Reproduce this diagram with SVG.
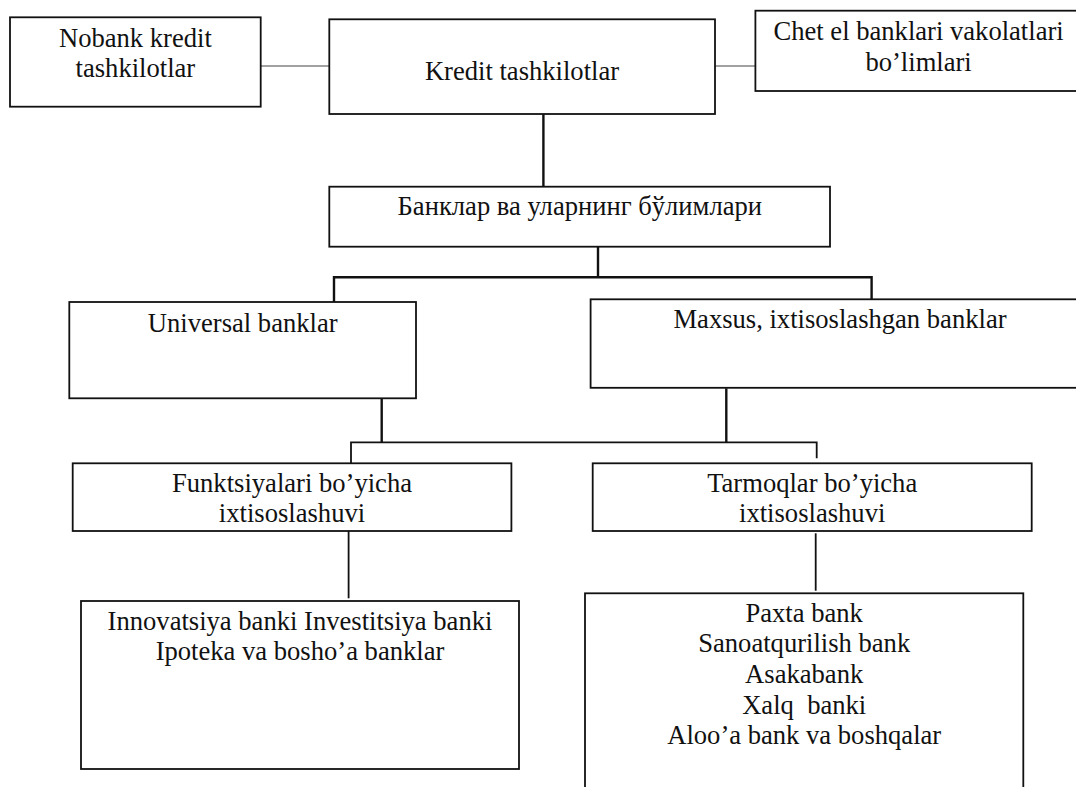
<svg xmlns="http://www.w3.org/2000/svg" width="1076" height="787" viewBox="0 0 1076 787">
<style>
.box{fill:#fff;stroke:#111;stroke-width:1.8}
text{font-family:'Liberation Serif','DejaVu Serif',serif;font-size:26.6px;fill:#111;text-anchor:middle;white-space:pre}
.thin{stroke:#444;stroke-width:1.2;fill:none}
.med{stroke:#111;stroke-width:1.8;fill:none}
.thick{stroke:#111;stroke-width:2.4;fill:none}
</style>
<rect width="1076" height="787" fill="#fff"/>
<g id="connectors">
<line class="thin" x1="260.7" y1="66" x2="329.3" y2="66"/>
<line class="thin" x1="715" y1="66" x2="755.4" y2="66"/>
<line class="thick" x1="543.4" y1="114" x2="543.4" y2="186.7"/>
<line class="thick" x1="598" y1="245.5" x2="598" y2="277.3"/>
<polyline class="thick" points="334,303 334,277.3 871.6,277.3 871.6,299.3"/>
<line class="thick" x1="381.7" y1="398.3" x2="381.7" y2="442.3"/>
<line class="thick" x1="726.3" y1="388.3" x2="726.3" y2="442.3"/>
<polyline class="med" points="351,463.3 351,442.3 816.7,442.3 816.7,458.3"/>
<line class="med" x1="348.6" y1="531" x2="348.6" y2="598.3"/>
<line class="med" x1="815.7" y1="533.3" x2="815.7" y2="590.7"/>
</g>
<g id="nobank">
<rect class="box" x="10" y="17.3" width="250.7" height="89.4"/>
<text font-family="Liberation Serif, DejaVu Serif, serif" x="135.4" y="46.5">Nobank kredit</text>
<text font-family="Liberation Serif, DejaVu Serif, serif" x="135.4" y="77.1">tashkilotlar</text>
</g>
<g id="kredit">
<rect class="box" x="329.3" y="19.3" width="385.7" height="94.7"/>
<text x="522" y="80">Kredit tashkilotlar</text>
</g>
<g id="chet">
<rect class="box" x="755.4" y="10.7" width="326.6" height="80.3"/>
<text x="918.6" y="40">Chet el banklari vakolatlari</text>
<text x="918.6" y="70.6">bo’limlari</text>
</g>
<g id="banklar">
<rect class="box" x="329.3" y="186.7" width="500.7" height="60"/>
<text x="579.8" y="215">Банклар ва уларнинг бўлимлари</text>
</g>
<g id="universal">
<rect class="box" x="69.3" y="302" width="346.7" height="96.3"/>
<text x="242.7" y="331.7">Universal banklar</text>
</g>
<g id="maxsus">
<rect class="box" x="590.6" y="299.3" width="498.4" height="88.5"/>
<text x="840" y="328.3">Maxsus, ixtisoslashgan banklar</text>
</g>
<g id="funktsiya">
<rect class="box" x="72.7" y="463.3" width="438.7" height="67.7"/>
<text x="292" y="491.7">Funktsiyalari bo’yicha</text>
<text x="292" y="521.7">ixtisoslashuvi</text>
</g>
<g id="tarmoq">
<rect class="box" x="592.7" y="463.3" width="439" height="67.7"/>
<text x="812.2" y="491.7">Tarmoqlar bo’yicha</text>
<text x="812.2" y="521.7">ixtisoslashuvi</text>
</g>
<g id="innovatsiya">
<rect class="box" x="81" y="601" width="438" height="168"/>
<text x="300" y="629.5">Innovatsiya banki Investitsiya banki</text>
<text x="300" y="660">Ipoteka va bosho’a banklar</text>
</g>
<g id="paxta">
<rect class="box" x="585" y="593.3" width="438.3" height="220"/>
<text x="804.2" y="621.7">Paxta bank</text>
<text x="804.2" y="652.3">Sanoatqurilish bank</text>
<text x="804.2" y="682.9">Asakabank</text>
<text x="804.2" y="713.5">Xalq  banki</text>
<text x="804.2" y="744.1">Aloo’a bank va boshqalar</text>
</g>
</svg>
